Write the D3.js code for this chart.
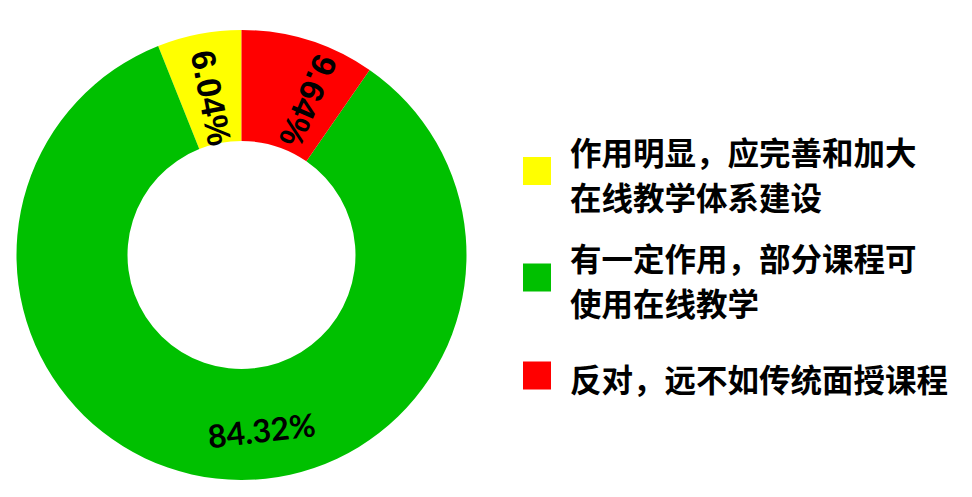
<!DOCTYPE html>
<html>
<head>
<meta charset="utf-8">
<script src="https://cdn.jsdelivr.net/npm/d3@7"></script>
<style>
  html, body { margin: 0; padding: 0; background: #fff; }
  svg { display: block; }
</style>
</head>
<body>
<svg id="chart"></svg>
<script>
// data
const categories = [
  ["作用明显，应完善和加大", "在线教学体系建设"],
  ["有一定作用，部分课程可", "使用在线教学"],
  ["反对，远不如传统面授课程"]
];
const values = [6.04, 84.32, 9.64];
const colors = ["#ffff00", "#00c000", "#ff0000"];

// label tweaks (degrees off the slice middle, radius, orientation)
const labelShift = [0, -13, 6];
const labelRadius = [160, 176, 168];
const labelMode = ["radial", "tangent", "radial"];

const width = 972;
const height = 497;
const cx = 241.5, cy = 255;
const outerR = 225, innerR = 114;
const legendX = 523, legendTextX = 570, boxSize = 28, lineH = 45;
const legendRowY = [171, 277.5, 375.5];

const svg = d3.select("#chart").attr("width", width).attr("height", height);

const pie = d3.pie()
  .sort(null)
  .startAngle(0)
  .endAngle(-2 * Math.PI)   // counter-clockwise from 12 o'clock
  .value(d => d);

const arc = d3.arc().innerRadius(innerR).outerRadius(outerR);
const arcs = pie(values);

const g = svg.append("g").attr("transform", `translate(${cx},${cy})`);

g.selectAll("path")
  .data(arcs)
  .enter()
  .append("path")
  .attr("fill", (d, i) => colors[i])
  .attr("d", arc);

g.selectAll("text.pct")
  .data(arcs)
  .enter()
  .append("text")
  .attr("class", "pct")
  .attr("transform", (d, i) => {
    const a = (d.startAngle + d.endAngle) / 2 + labelShift[i] * Math.PI / 180;
    const r = labelRadius[i];
    const x = r * Math.sin(a), y = -r * Math.cos(a);
    const deg = a * 180 / Math.PI;
    const rot = labelMode[i] === "radial" ? deg + 90 : deg - 180;
    return `translate(${x},${y}) rotate(${rot})`;
  })
  .attr("text-anchor", "middle")
  .attr("dominant-baseline", "central")
  .style("font-family", (d, i) => labelMode[i] === "radial" ? "'Liberation Sans', Arial, sans-serif" : "Lato, 'Open Sans', sans-serif")
  .style("font-size", (d, i) => labelMode[i] === "radial" ? "34px" : "32px")
  .style("font-weight", "bold")
  .attr("fill", "#000")
  .text(d => d.data.toFixed(2) + "%");

// legend
const legend = svg.append("g");
const items = legend.selectAll("g")
  .data(categories)
  .enter()
  .append("g")
  .attr("transform", (d, i) => `translate(0,${legendRowY[i]})`);

items.append("rect")
  .attr("x", legendX)
  .attr("y", -boxSize / 2)
  .attr("width", boxSize)
  .attr("height", boxSize)
  .attr("fill", (d, i) => colors[i]);

items.each(function (lines) {
  const t = d3.select(this).append("text")
    .attr("x", legendTextX)
    .attr("dominant-baseline", "central")
    .style("font-family", "'Noto Sans CJK SC', sans-serif")
    .style("font-size", "31.5px")
    .style("font-weight", "bold")
    .attr("fill", "#000");
  const off = 2 - (lines.length - 1) * lineH / 2;
  lines.forEach((s, k) => {
    t.append("tspan")
      .attr("x", legendTextX)
      .attr("y", off + k * lineH)
      .text(s);
  });
});
</script>
</body>
</html>
